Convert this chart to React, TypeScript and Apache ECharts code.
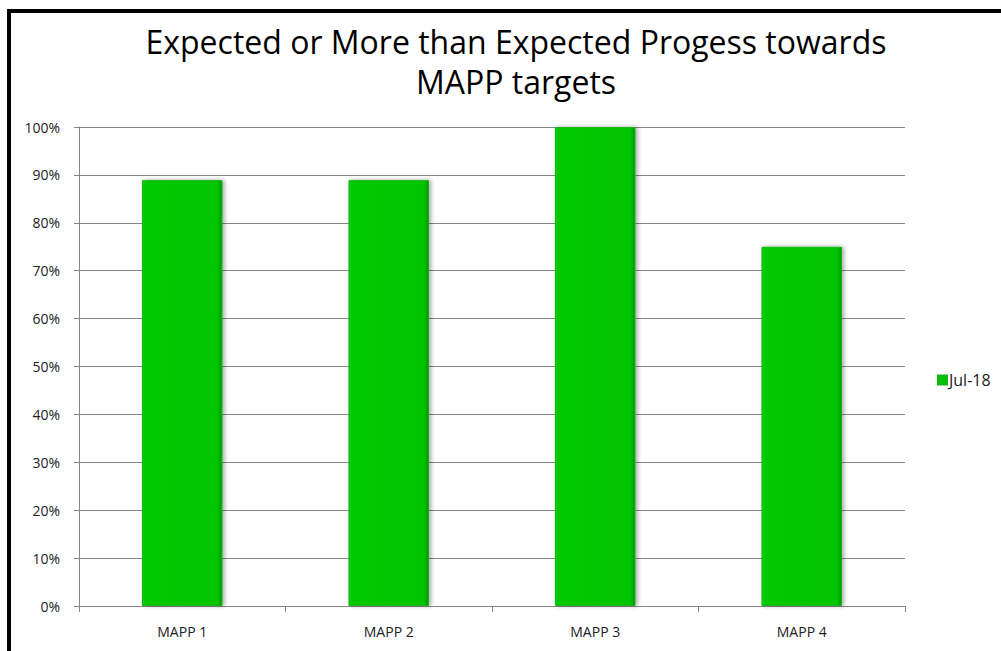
import React, { useEffect, useRef } from "react";
import * as echarts from "echarts";

const categories = ["MAPP 1", "MAPP 2", "MAPP 3", "MAPP 4"];
const seriesName = "Jul-18";
const values = [0.889, 0.889, 1.0, 0.75];
const titleText = "Expected or More than Expected Progess towards\nMAPP targets";

const FONT = "'Open Sans', 'Liberation Sans', sans-serif";

export default function App() {
  const ref = useRef<HTMLDivElement>(null);
  useEffect(() => {
    if (!ref.current) return;
    const chart = echarts.init(ref.current, undefined, { renderer: "svg" });
    chart.setOption({
      animation: false,
      backgroundColor: "#ffffff",
      title: {
        text: titleText,
        left: 511,
        textAlign: "center",
        top: 16,
        textStyle: {
          fontFamily: FONT,
          fontSize: 32,
          fontWeight: "normal",
          color: "#000000",
          lineHeight: 40,
        },
      },
      legend: {
        orient: "vertical",
        left: 932,
        top: 367,
        itemWidth: 9,
        itemHeight: 9,
        icon: "rect",
        itemGap: 4,
        data: [seriesName],
        textStyle: { fontFamily: FONT, fontSize: 16, color: "#1a1a1a", padding: [0, 0, 0, -3] },
      },
      grid: { left: 79, right: 96, top: 127, bottom: 45, containLabel: false },
      xAxis: {
        type: "category",
        data: categories,
        axisLine: { lineStyle: { color: "#868686", width: 1 } },
        axisTick: { show: true, length: 6, alignWithLabel: false, lineStyle: { color: "#868686" } },
        axisLabel: { fontFamily: FONT, fontSize: 14, color: "#222222", margin: 18 },
      },
      yAxis: {
        type: "value",
        min: 0,
        max: 1,
        interval: 0.1,
        axisLine: { show: true, lineStyle: { color: "#868686", width: 1 } },
        axisTick: { show: true, length: 5, lineStyle: { color: "#868686" } },
        splitLine: { show: true, lineStyle: { color: "#868686", width: 1 } },
        axisLabel: {
          fontFamily: FONT,
          fontSize: 14,
          color: "#222222",
          margin: 19,
          formatter: (v: number) => `${Math.round(v * 100)}%`,
        },
      },
      series: [
        {
          name: seriesName,
          type: "bar",
          data: values,
          barWidth: "39%",
          itemStyle: {
            color: {
              type: "linear",
              x: 0,
              y: 0,
              x2: 1,
              y2: 0,
              colorStops: [
                { offset: 0, color: "#10d010" },
                { offset: 0.04, color: "#00c800" },
                { offset: 0.94, color: "#00c400" },
                { offset: 1, color: "#009800" },
              ],
            },
            borderColor: "#12b512",
            borderWidth: 1,
            shadowColor: "rgba(0,0,0,0.35)",
            shadowBlur: 4,
            shadowOffsetX: 2,
            shadowOffsetY: 0,
          },
        },
      ],
      graphic: [
        {
          type: "rect",
          shape: { x: 9, y: 11, width: 1100, height: 800 },
          style: { fill: "none", stroke: "#000000", lineWidth: 4 },
          silent: true,
        },
      ],
    });
    return () => chart.dispose();
  }, []);
  return (
    <div
      ref={ref}
      style={{ position: "absolute", left: 0, top: 0, width: 1001, height: 651 }}
    />
  );
}
